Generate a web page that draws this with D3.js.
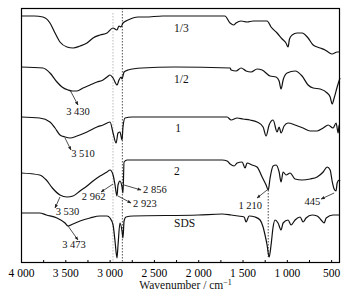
<!DOCTYPE html>
<html>
<head>
<meta charset="utf-8">
<script src="https://cdn.jsdelivr.net/npm/d3@7/dist/d3.min.js"></script>
<style>
  body { margin: 0; background: #fff; }
  text { font-family: "Liberation Serif", "Times New Roman", serif; }
</style>
</head>
<body>
<div id="chart"></div>
<script>
// wavenumber (cm-1), transmittance in arbitrary stacked units
const seriesNames = ['1/3', '1/2', '1', '2', 'SDS'];

const trace13 = [
  [4000, 247], [3850, 247], [3752, 246], [3673, 240], [3616, 230], [3560, 221],
  [3481, 216], [3413, 215], [3334, 217], [3255, 220], [3187, 225], [3108, 228],
  [3029, 230], [2962, 235], [2917, 233], [2894, 237], [2871, 236], [2849, 240],
  [2792, 243], [2679, 246], [2600, 246], [2400, 247], [2000, 247], [1700, 247],
  [1640, 240], [1600, 238], [1573, 240], [1516, 242], [1449, 241], [1381, 242],
  [1223, 242], [1178, 236], [1110, 230], [1053, 224], [1010, 220], [986, 216],
  [970, 224], [940, 228], [884, 230], [828, 230], [760, 225], [703, 218],
  [624, 215], [568, 213], [534, 211], [489, 209], [432, 211], [400, 211]
];

const trace12 = [
  [4000, 196], [3752, 195], [3673, 190], [3594, 181], [3537, 176], [3469, 173],
  [3424, 172], [3368, 172], [3300, 175], [3221, 178], [3142, 181], [3074, 183],
  [3029, 186], [2995, 188], [2961, 185], [2916, 178], [2894, 183], [2871, 186],
  [2860, 184], [2837, 191], [2792, 193], [2634, 195], [2273, 196], [1640, 195],
  [1629, 193], [1573, 192], [1516, 195], [1460, 192], [1403, 191], [1336, 194],
  [1279, 193], [1189, 187], [1121, 186], [1087, 182], [1065, 174], [1042, 183],
  [997, 190], [907, 192], [828, 187], [760, 178], [703, 175], [624, 174],
  [545, 170], [511, 166], [489, 159], [466, 165], [432, 176], [400, 185]
];

const trace1 = [
  [4000, 146], [3790, 145], [3673, 141], [3616, 135], [3560, 128], [3503, 126],
  [3447, 125], [3368, 127], [3255, 131], [3142, 136], [3074, 138], [2995, 141],
  [2961, 130], [2927, 120], [2905, 130], [2883, 131], [2860, 123], [2849, 136],
  [2826, 145], [2747, 146], [2000, 146], [1674, 146], [1629, 143], [1561, 145],
  [1494, 144], [1415, 143], [1336, 141], [1268, 136], [1234, 127], [1200, 138],
  [1155, 143], [1110, 131], [1087, 136], [1065, 130], [1031, 137], [986, 140],
  [907, 138], [817, 135], [737, 132], [658, 132], [590, 135], [534, 138],
  [478, 135], [444, 140], [421, 130], [410, 138], [400, 138]
];

const trace2 = [
  [4000, 90], [3790, 88], [3714, 83], [3646, 75], [3560, 68], [3481, 66],
  [3413, 67], [3334, 72], [3255, 77], [3187, 82], [3108, 87], [3029, 91],
  [2995, 93], [2961, 88], [2939, 78], [2917, 67], [2905, 78], [2883, 82],
  [2860, 76], [2849, 70], [2837, 101], [2803, 103], [2600, 103], [1730, 103],
  [1674, 102], [1640, 99], [1595, 97], [1561, 100], [1505, 101], [1471, 95],
  [1449, 100], [1392, 98], [1336, 96], [1279, 86], [1234, 78], [1210, 73],
  [1189, 85], [1155, 97], [1121, 98], [1087, 91], [1065, 81], [1042, 91],
  [1008, 88], [963, 90], [907, 84], [828, 83], [737, 84], [658, 86],
  [590, 91], [545, 96], [511, 93], [489, 82], [466, 74], [445, 72],
  [432, 80], [410, 83], [400, 82]
];

const traceSDS = [
  [4000, 50], [3790, 50], [3714, 48], [3594, 45], [3503, 40], [3469, 37],
  [3413, 39], [3334, 42], [3221, 45], [3108, 47], [3029, 47], [2995, 45],
  [2961, 38], [2939, 22], [2917, 5], [2905, 18], [2883, 40], [2860, 32],
  [2849, 25], [2837, 42], [2815, 46], [2736, 47], [2000, 48], [1730, 49],
  [1629, 48], [1550, 47], [1482, 46], [1460, 41], [1426, 47], [1358, 46],
  [1302, 43], [1268, 36], [1246, 28], [1223, 18], [1200, 6], [1178, 18],
  [1155, 36], [1133, 43], [1099, 40], [1065, 33], [1042, 40], [986, 43],
  [952, 38], [907, 43], [850, 46], [817, 41], [783, 45], [715, 48],
  [658, 47], [613, 43], [579, 40], [556, 45], [478, 48], [400, 48]
];

const traces = [trace13, trace12, trace1, trace2, traceSDS];

// series label positions [wavenumber, value]
const seriesLabelPos = [[2273, 231], [2273, 180], [2260, 131], [2273, 88], [2273, 36]];

// peak annotations: text, text position, anchor, arrow start, arrow end
const peakLabels = ['3 430', '3 510', '3 530', '2 962', '2 856', '2 923', '3 473', '1 210', '445'];
const peakTextPos = [[3357, 148], [3300, 106], [3475, 48], [3181, 63], [2623, 70],
  [2736, 56], [3402, 15], [1279, 54], [624, 58]];
const peakAnchor = ['middle', 'middle', 'middle', 'middle', 'start', 'start', 'middle', 'end', 'end'];
const arrowFrom = [[3447, 173], [3503, 125], [3560, 66], [2961, 79], [2837, 78],
  [2905, 67], [3469, 37], [1223, 73], [466, 70]];
const arrowTo = [[3357, 158], [3436, 113], [3616, 55], [3097, 71], [2645, 73],
  [2758, 60], [3357, 23], [1336, 65], [613, 64]];

// dotted guide lines: wavenumber, value from, value to, colour
const guideWave = [2962, 2856, 1210];
const guideRange = [[250, 0], [255, 0], [73, 6]];
const guideColor = ['#bbb', '#555', '#444'];

const xTicks = d3.range(4000, 399, -250);

const svgWidth = 348, svgHeight = 296;
const margin = {top: 8, right: 8, bottom: 33, left: 21};
const width = svgWidth - margin.left - margin.right;
const height = svgHeight - margin.top - margin.bottom;

const svg = d3.select('#chart').append('svg')
    .attr('width', svgWidth)
    .attr('height', svgHeight);

svg.append('defs').append('marker')
    .attr('id', 'arrow')
    .attr('viewBox', '0 0 10 10')
    .attr('refX', 9)
    .attr('refY', 5)
    .attr('markerWidth', 5)
    .attr('markerHeight', 5)
    .attr('orient', 'auto')
    .append('path')
    .attr('d', 'M0,1L10,5L0,9z')
    .attr('fill', '#222');

const g = svg.append('g')
    .attr('transform', 'translate(' + margin.left + ',' + margin.top + ')');

const x = d3.scaleLinear().domain([4000, 400]).range([0, width]);
const y = d3.scaleLinear().domain([0, 255]).range([height, 0]);

const fmt = d3.formatLocale({decimal: '.', thousands: ' ', grouping: [3], currency: ['', '']}).format(',d');

const xAxis = d3.axisBottom(x)
    .tickValues(xTicks)
    .tickSizeInner(-3)
    .tickSizeOuter(0)
    .tickPadding(6)
    .tickFormat(d => d % 500 === 0 ? fmt(d) : '');

const axisG = g.append('g')
    .attr('transform', 'translate(0,' + height + ')')
    .call(xAxis);
axisG.select('.domain').remove();
axisG.selectAll('line').attr('stroke', '#000');
axisG.selectAll('text')
    .attr('fill', '#000')
    .style('font-size', '11.5px')
    .style('font-family', '"Liberation Serif", serif');

// guide lines
guideWave.forEach((w, i) => {
  g.append('line')
      .attr('x1', x(w)).attr('x2', x(w))
      .attr('y1', y(guideRange[i][0])).attr('y2', y(guideRange[i][1]))
      .attr('stroke', guideColor[i])
      .attr('stroke-width', 1)
      .attr('stroke-dasharray', '1.5,1.5');
});

const line = d3.line()
    .x(d => x(d[0]))
    .y(d => y(d[1]))
    .curve(d3.curveMonotoneX);

traces.forEach(t => {
  g.append('path')
      .datum(t)
      .attr('fill', 'none')
      .attr('stroke', '#111')
      .attr('stroke-width', 1.2)
      .attr('stroke-linejoin', 'round')
      .attr('d', line);
});

seriesNames.forEach((name, i) => {
  g.append('text')
      .attr('x', x(seriesLabelPos[i][0]))
      .attr('y', y(seriesLabelPos[i][1]))
      .attr('font-size', '11.5px')
      .attr('fill', '#111')
      .text(name);
});

peakLabels.forEach((lab, i) => {
  g.append('line')
      .attr('x1', x(arrowFrom[i][0])).attr('y1', y(arrowFrom[i][1]))
      .attr('x2', x(arrowTo[i][0])).attr('y2', y(arrowTo[i][1]))
      .attr('stroke', '#222')
      .attr('stroke-width', 0.8)
      .attr('marker-end', 'url(#arrow)');
  g.append('text')
      .attr('x', x(peakTextPos[i][0]))
      .attr('y', y(peakTextPos[i][1]))
      .attr('text-anchor', peakAnchor[i])
      .attr('font-size', '10.5px')
      .attr('fill', '#111')
      .text(lab);
});

// frame
g.append('rect')
    .attr('x', 0.5).attr('y', 0.5)
    .attr('width', width - 1).attr('height', height - 1)
    .attr('fill', 'none')
    .attr('stroke', '#000')
    .attr('stroke-width', 1.2);

const title = g.append('text')
    .attr('x', width / 2 + 5)
    .attr('y', height + 26)
    .attr('text-anchor', 'middle')
    .attr('font-size', '11.5px')
    .attr('fill', '#111');
title.append('tspan').text('Wavenumber / cm');
title.append('tspan').attr('dy', -4).attr('font-size', '8px').text('\u22121');
</script>
</body>
</html>
